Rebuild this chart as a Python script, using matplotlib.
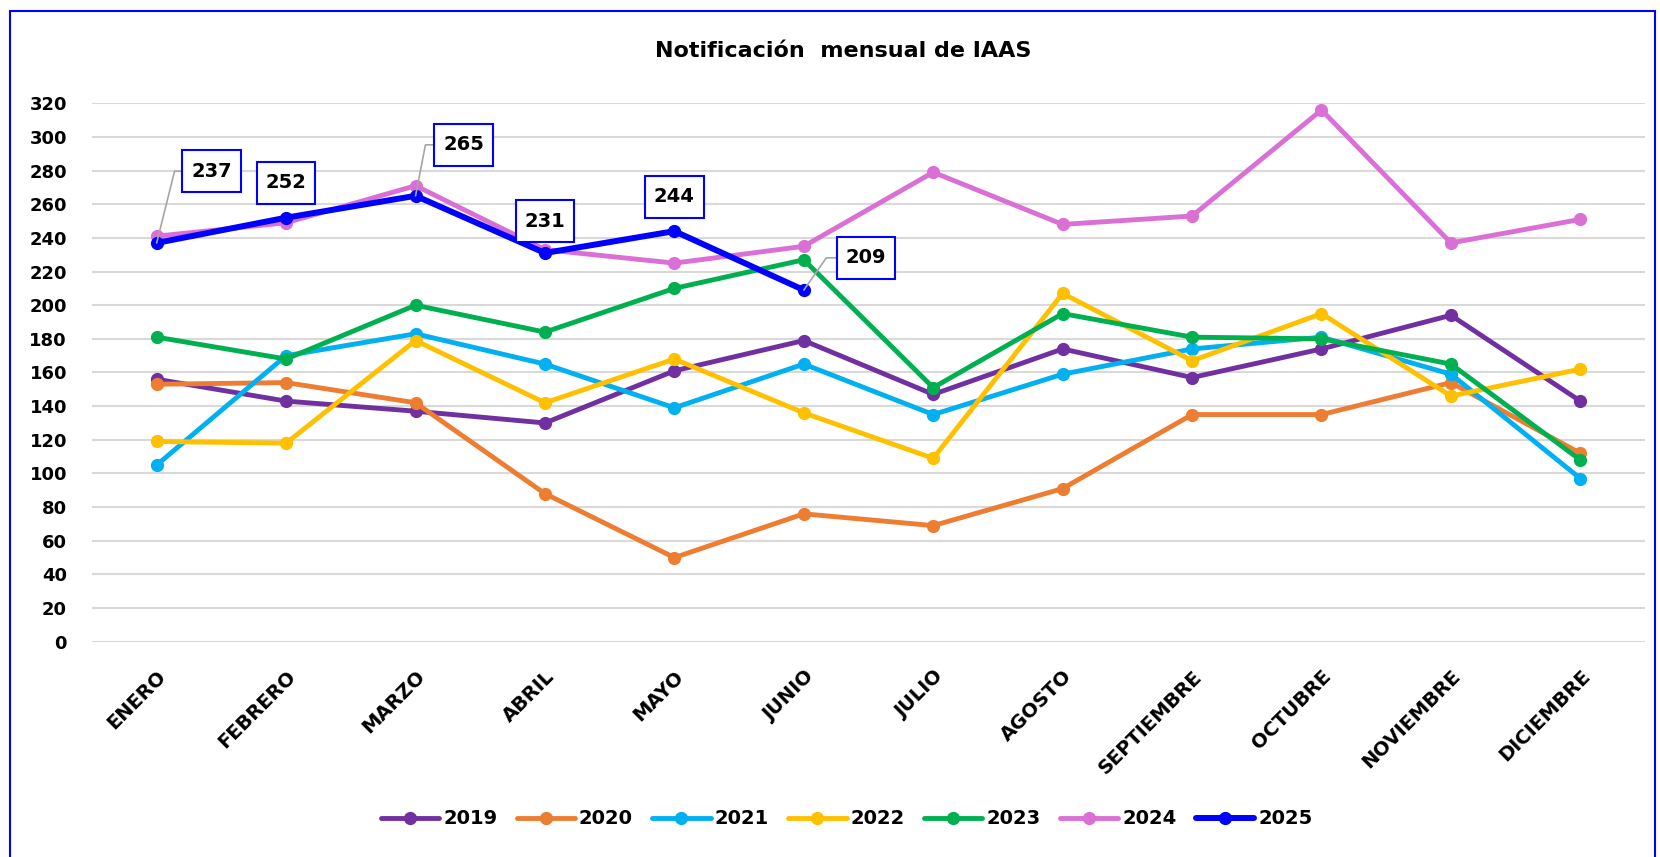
import matplotlib.pyplot as plt
from matplotlib.patches import Rectangle
from matplotlib.path import Path

plt.rcParams['font.family'] = ['DejaVu Sans']
plt.rcParams['font.weight'] = 'bold'

months = ['ENERO', 'FEBRERO', 'MARZO', 'ABRIL', 'MAYO', 'JUNIO', 'JULIO',
          'AGOSTO', 'SEPTIEMBRE', 'OCTUBRE', 'NOVIEMBRE', 'DICIEMBRE']

y2019 = [156, 143, 137, 130, 161, 179, 147, 174, 157, 174, 194, 143]
y2020 = [153, 154, 142, 88, 50, 76, 69, 91, 135, 135, 154, 112]
y2021 = [105, 170, 183, 165, 139, 165, 135, 159, 174, 181, 159, 97]
y2022 = [119, 118, 179, 142, 168, 136, 109, 207, 167, 195, 146, 162]
y2023 = [181, 168, 200, 184, 210, 227, 151, 195, 181, 180, 165, 108]
y2024 = [241, 249, 271, 233, 225, 235, 279, 248, 253, 316, 237, 251]
y2025 = [237, 252, 265, 231, 244, 209]

years = ['2019', '2020', '2021', '2022', '2023', '2024', '2025']
series = [y2019, y2020, y2021, y2022, y2023, y2024, y2025]
colors = ['#7030A0', '#ED7D31', '#00B0F0', '#FFC000', '#00B050', '#DA70D6', '#0000FF']

# label offsets (points) for the 2025 data labels, and leader angle (None = no leader)
label_off = [(39.6, 51.6), (0, 25), (34.7, 36.7), (0, 23), (0, 24.7), (44.9, 23.2)]
leader_ang = [76, None, 79, None, None, 55]


def label_box(x0, y0, width, height, mutation_size):
    # square box, taller than wide padding (like the excel data callouts)
    px = 0.46 * mutation_size
    py = 0.58 * mutation_size
    x0, y0 = x0 - px, y0 - py
    x1, y1 = x0 + width + 2 * px, y0 + height + 2 * py
    return Path([(x0, y0), (x1, y0), (x1, y1), (x0, y1), (x0, y0)], closed=True)


fig = plt.figure(figsize=(16.6, 8.57), dpi=100)
ax = fig.add_axes([0.0554, 0.2512, 0.9356, 0.6283])

x = list(range(len(months)))
for yr, vals, c in zip(years, series, colors):
    lw = 4.3 if yr == '2025' else 3.5
    ax.plot(x[:len(vals)], vals, '-o', color=c, lw=lw, ms=8.5, label=yr,
            solid_capstyle='round', zorder=3)

for i, v in enumerate(y2025):
    dx, dy = label_off[i]
    kw = {}
    if leader_ang[i] is not None:
        kw['arrowprops'] = dict(arrowstyle='-', color='#A6A6A6', lw=1.2, shrinkA=0, shrinkB=0,
                                connectionstyle='angle,angleA=0,angleB=%d,rad=0' % leader_ang[i])
    ax.annotate(str(v), (i, v), xytext=(dx, dy), textcoords='offset points',
                ha='center', va='center', fontsize=14, fontweight='bold', color='black',
                bbox=dict(boxstyle=label_box, fc='white', ec='#0000FF', lw=1.5),
                zorder=5, **kw)

ax.set_xlim(-0.5, 11.5)
ax.set_ylim(0, 320)
ax.set_yticks(range(0, 321, 20))
ax.set_xticks(x)
ax.set_xticklabels(months, rotation=45, ha='right', rotation_mode='anchor')
ax.tick_params(axis='both', length=0, labelsize=13)
ax.tick_params(axis='x', pad=18, labelsize=14)
ax.tick_params(axis='y', pad=18)
for lab in ax.get_xticklabels() + ax.get_yticklabels():
    lab.set_fontweight('bold')
ax.grid(axis='y', color='#D9D9D9', lw=1.5)
ax.set_axisbelow(True)
for s in ax.spines.values():
    s.set_visible(False)

fig.text(843 / 1660, 1 - 51 / 857, 'Notificación  mensual de IAAS', ha='center', va='center',
         fontsize=16, fontweight='bold')

fig.legend(loc='center', bbox_to_anchor=(0.51, 1 - 819 / 857), ncol=7, frameon=False,
           handlelength=3.0, handletextpad=0.2, columnspacing=1.0,
           prop={'weight': 'bold', 'size': 14})

fig.patches.append(Rectangle((10 / 1660, -0.05), (1655 - 10) / 1660, 1.05 - 11 / 857,
                             transform=fig.transFigure, fill=False, ec='#0000FF', lw=1.5))

fig.savefig('out.png', dpi=100)
